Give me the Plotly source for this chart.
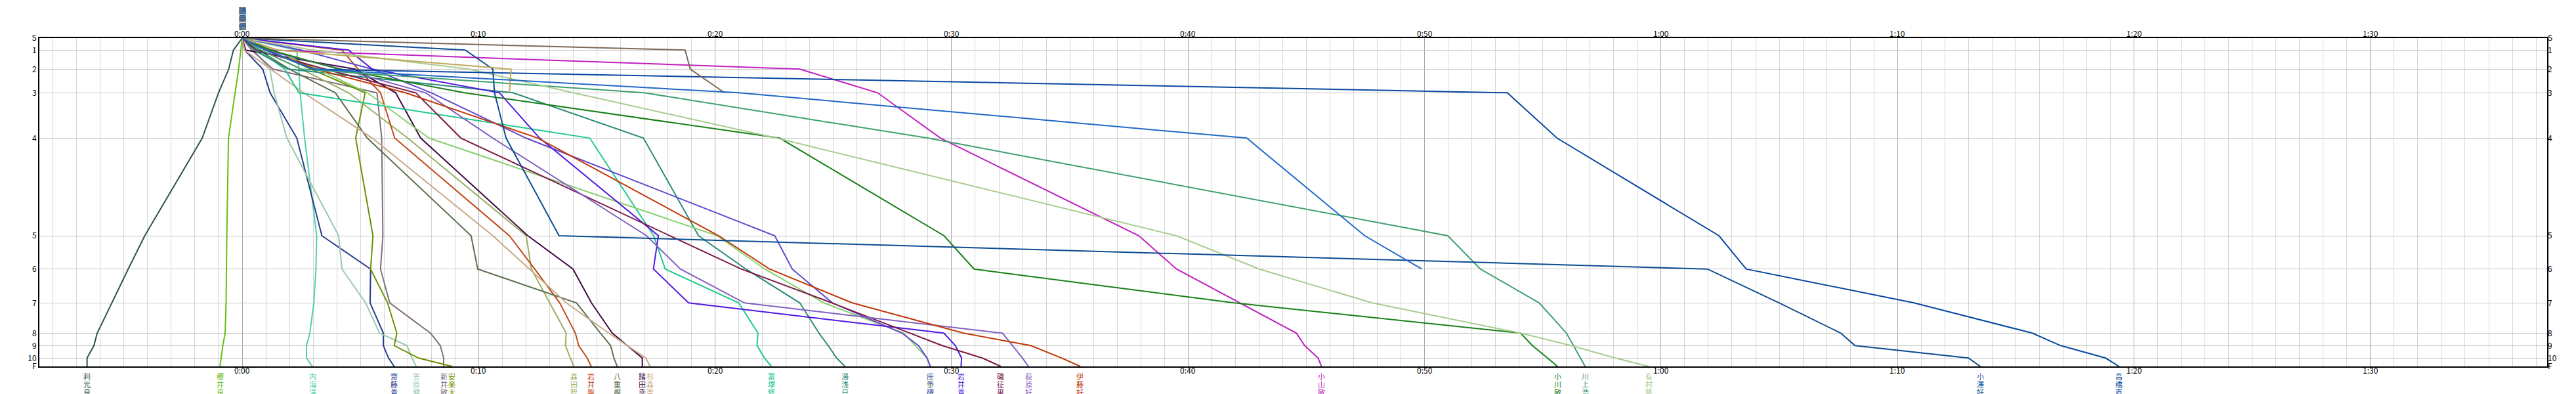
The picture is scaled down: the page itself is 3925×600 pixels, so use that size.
import plotly.graph_objects as go

# course stations (top to bottom) and their distance position
stations = ["S", "1", "2", "3", "4", "5", "6", "7", "8", "9", "10", "F"]
station_pos = [0, 18.3, 47.3, 83.3, 152.3, 301, 351.7, 403.3, 449.3, 468.3, 487.3, 500]

tick_minutes = [0, 10, 20, 30, 40, 50, 60, 70, 80, 90]
tick_labels = ["0:00", "0:10", "0:20", "0:30", "0:40", "0:50", "1:00", "1:10", "1:20", "1:30"]

names = [
    "利光良", "櫻井良", "内海洋", "齋藤貴", "笠原健", "新井敏", "安楽大", "森田智",
    "岩井磐", "八重樫", "諸田幸", "杉森憲", "冨塚修", "湯浅日", "座野研", "庄予碑",
    "岩井貴", "磯征男", "荻原好", "伊藤好", "小山敏", "小川敏", "川上浩", "有村隆",
    "小澤好", "高橋直", "松本健", "山田隆", "田中修",
]

# minutes at each station (shorter list = did not reach the finish)
splits = [
    [0, -0.37, -0.57, -1.0, -1.69, -4.12, -4.82, -5.52, -6.13, -6.27, -6.56, -6.56],
    [0, -0.05, -0.15, -0.3, -0.58, -0.65, -0.67, -0.68, -0.72, -0.82, -0.89, -0.94],
    [0, 2.3, 2.4, 2.45, 2.64, 3.15, 3.12, 3.03, 2.86, 2.72, 2.72, 2.97],
    [0, 0.1, 0.87, 1.18, 2.31, 3.37, 5.43, 5.41, 5.97, 5.97, 6.19, 6.43],
    [0, 0.5, 1.17, 1.35, 1.89, 4.08, 4.22, 5.22, 5.81, 6.97, 7.18, 7.36],
    [0, 0.4, 1.3, 5.7, 5.9, 5.95, 5.85, 6.24, 7.96, 8.38, 8.52, 8.52],
    [0, 1.07, 2.92, 5.2, 4.8, 5.53, 5.43, 6.15, 6.54, 6.43, 7.46, 8.88],
    [0, 0.8, 2.5, 4.5, 7.0, 12.01, 12.23, 13.0, 13.7, 13.67, 13.88, 14.02],
    [0, 4.22, 4.9, 5.85, 6.45, 11.3, 12.37, 13.43, 14.09, 14.23, 14.59, 14.76],
    [0, 0.7, 2.0, 3.94, 5.29, 9.68, 9.96, 14.14, 15.15, 15.58, 15.72, 15.86],
    [0, 0.15, 4.77, 6.49, 7.55, 12.08, 13.99, 14.77, 15.65, 16.29, 16.92, 16.92],
    [0, 0.1, 1.2, 2.6, 5.5, 10.6, 12.15, 13.71, 15.5, 16.29, 17.07, 17.25],
    [0, 0.7, 1.8, 2.4, 14.7, 17.4, 17.89, 21.0, 21.81, 21.77, 22.09, 22.38],
    [0, 0.5, 1.95, 11.45, 16.97, 19.3, 21.3, 23.58, 24.39, 24.78, 25.14, 25.49],
    [0, 1.3, 3.2, 5.3, 7.9, 20.09, 22.1, 24.6, 27.97, 28.46, 28.96, 29.1],
    [0, 2.5, 5.5, 8.0, 12.0, 22.52, 23.26, 24.96, 27.9, 28.6, 28.96, 29.1],
    [0, 4.5, 5.5, 10.88, 12.58, 17.6, 17.39, 18.88, 29.67, 30.16, 30.42, 30.4],
    [0, 0.6, 3.5, 7.34, 9.25, 18.1, 21.1, 24.94, 28.25, 29.6, 31.3, 32.08],
    [0, 1.0, 4.2, 7.76, 10.6, 17.1, 18.53, 21.24, 32.15, 32.57, 33.0, 33.25],
    [0, 1.0, 3.1, 6.9, 12.51, 20.15, 22.3, 25.8, 30.5, 33.35, 34.66, 35.44],
    [0, 1.2, 23.58, 26.87, 29.53, 37.92, 39.51, 42.2, 44.58, 44.93, 45.5, 45.64],
    [0, 1.2, 4.1, 9.4, 22.73, 29.68, 30.95, 41.95, 54.06, 54.56, 55.2, 55.62],
    [0, 0.8, 2.5, 17.0, 29.0, 50.98, 52.36, 54.85, 56.0, 56.3, 56.6, 56.79],
    [0, 3.0, 9.6, 14.0, 22.6, 39.51, 43.01, 47.79, 54.06, 56.2, 58.07, 59.48],
    [0, 9.43, 10.6, 10.67, 11.16, 13.4, 61.96, 65.0, 67.6, 68.2, 73.0, 73.5],
    [0, 1.0, 3.0, 53.5, 55.6, 62.45, 63.6, 70.7, 75.7, 76.9, 78.8, 79.37],
    [0, 18.73, 18.95, 20.4],
    [0, 1.5, 11.37, 11.3],
    [0, 1.0, 3.0, 21.0, 42.48, 47.47, 49.88],
]

colors = [
    "#2f5050", "#66c010", "#50d0a8", "#283a8a", "#98c8a8", "#806e7c", "#6a9000", "#98b060",
    "#c04818", "#5a7050", "#400840", "#c8a888", "#20c890", "#2a8a78", "#88d070", "#6048d0",
    "#5018e0", "#7a1a48", "#8060c0", "#c03808", "#c020c0", "#188018", "#40a070", "#a8cc90",
    "#0a4c90", "#0848a0", "#7a6858", "#c0a858", "#2068c8",
]

fig = go.Figure()

for name, times, color in zip(names, splits, colors):
    fig.add_trace(go.Scatter(
        x=times,
        y=station_pos[:len(times)],
        mode="lines",
        name=name,
        line=dict(color=color, width=2),
        hoverinfo="skip",
    ))

# dummy trace so the right axis is drawn
fig.add_trace(go.Scatter(x=[0], y=[0], yaxis="y2", mode="markers",
                         marker=dict(opacity=0), hoverinfo="skip"))

font_name = "Noto Sans CJK JP"
plot_top, plot_h = 50, 500


def paper_y(px):
    return (plot_top + plot_h - px) / plot_h


def vertical_name(name, x, top_px, color, size=11, step=12):
    # one annotation per character, written top to bottom
    out = []
    for k, ch in enumerate(name):
        out.append(dict(
            x=x, y=paper_y(top_px + step * k), xref="x", yref="paper",
            yanchor="middle", showarrow=False, text=ch, borderpad=0,
            font=dict(family=font_name, size=size, color=color),
        ))
    return out


annotations = []
for name, times, color in zip(names, splits, colors):
    annotations += vertical_name(name, 0, 8, color)
    if len(times) == len(stations):
        annotations += vertical_name(name, times[-1], 565, color)

for m, lab in zip(tick_minutes, tick_labels):
    for ypx in (43, 555):
        annotations.append(dict(
            x=m, y=paper_y(ypx), xref="x", yref="paper", yanchor="middle",
            showarrow=False, text=lab, borderpad=0,
            font=dict(family=font_name, size=12, color="black"),
        ))

x_range = [-8.576, 97.47]
y_range = [500, 0]

fig.update_layout(
    width=3925,
    height=600,
    margin=dict(l=52, r=52, t=50, b=50),
    plot_bgcolor="white",
    paper_bgcolor="white",
    showlegend=False,
    font=dict(family=font_name, size=12, color="black"),
    annotations=annotations,
    xaxis=dict(
        range=x_range,
        tickmode="array",
        tickvals=tick_minutes,
        showticklabels=False,
        showgrid=True,
        gridcolor="#a8a8a8",
        gridwidth=1,
        minor=dict(dtick=1, tick0=0, showgrid=True, gridcolor="#d6d6d6", gridwidth=1),
        zeroline=False,
        showline=True,
        mirror=True,
        linecolor="black",
        linewidth=2,
        ticks="",
    ),
    yaxis=dict(
        range=y_range,
        tickmode="array",
        tickvals=station_pos,
        ticktext=stations,
        showgrid=True,
        gridcolor="#c4c4c4",
        gridwidth=1,
        zeroline=False,
        showline=True,
        mirror=True,
        linecolor="black",
        linewidth=2,
        ticks="",
        tickfont=dict(size=12),
    ),
    yaxis2=dict(
        range=y_range,
        overlaying="y",
        side="right",
        tickmode="array",
        tickvals=station_pos,
        ticktext=stations,
        showgrid=False,
        zeroline=False,
        ticks="",
        tickfont=dict(size=12),
    ),
)

fig.write_html("out.html")
